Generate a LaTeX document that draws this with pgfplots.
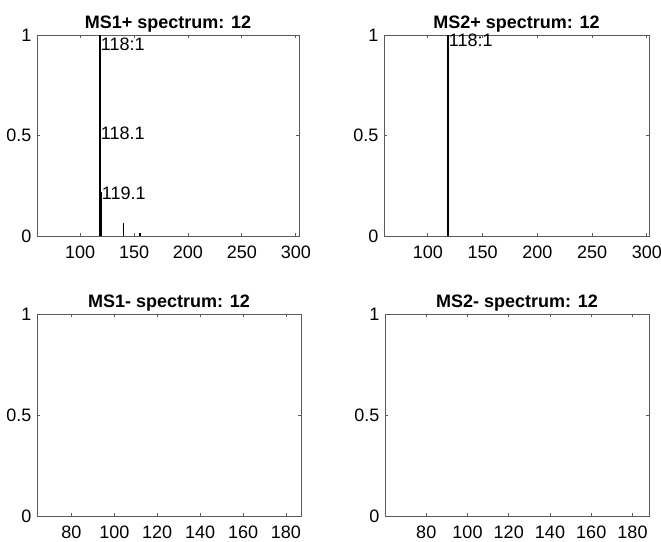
\documentclass[border=0pt]{standalone}
\usepackage{pgfplots}
\pgfplotsset{compat=1.18}
\usepackage{fontspec}
\setmainfont{Liberation Sans}
\definecolor{axgray}{RGB}{90,90,90}
\begin{document}
\begin{tikzpicture}
\path[use as bounding box] (0pt,0pt) rectangle (661pt,541pt);
\pgfplotsset{ms/.style={scale only axis, ymin=0, ymax=1, ytick={0,0.5,1}, yticklabels={0,0.5,1},
  tick align=inside, major tick length=3pt, axis line style={axgray, line width=0.9pt},
  every tick/.style={axgray, line width=0.8pt},
  tick label style={font=\fontsize{18}{20}\selectfont},
  xticklabel style={yshift=-6pt},
  yticklabel style={xshift=-2pt},
  title style={font=\bfseries\fontsize{18}{20}\selectfont, yshift=-7pt},
  /pgf/number format/assume math mode=true, anchor=south west, clip=false}}
\begin{axis}[ms, at={(37pt,305pt)}, width=262pt, height=201pt, xmin=60, xmax=303,
  xtick={100,150,200,250,300}, title={MS1+ spectrum: 12}]
\addplot[ycomb, black, line width=1.8pt, mark=none] coordinates {(118.1,1) (118.1,0.5) (119.1,0.22)};
\addplot[ycomb, black, line width=1.4pt, mark=none] coordinates {(140,0.065) (155.5,0.015)};
\node[anchor=west, inner sep=1pt, font=\fontsize{18}{20}\selectfont] at (axis cs:118.1,0.955) {118:1};
\node[anchor=west, inner sep=1pt, font=\fontsize{18}{20}\selectfont] at (axis cs:118.1,0.51) {118.1};
\node[anchor=west, inner sep=1pt, font=\fontsize{18}{20}\selectfont] at (axis cs:119.1,0.21) {119.1};
\end{axis}
\begin{axis}[ms, at={(384pt,305pt)}, width=265pt, height=201pt, xmin=60, xmax=302,
  xtick={100,150,200,250,300}, title={MS2+ spectrum: 12}]
\addplot[ycomb, black, line width=1.8pt, mark=none] coordinates {(118.1,1)};
\node[anchor=west, inner sep=1pt, font=\fontsize{18}{20}\selectfont] at (axis cs:118.1,0.975) {118:1};
\end{axis}
\begin{axis}[ms, at={(37pt,25pt)}, width=264pt, height=202pt, xmin=64, xmax=187,
  xtick={80,100,120,140,160,180}, title={MS1- spectrum: 12}]
\end{axis}
\begin{axis}[ms, at={(385pt,25pt)}, width=264pt, height=202pt, xmin=60, xmax=188,
  xtick={80,100,120,140,160,180}, title={MS2- spectrum: 12}]
\end{axis}
\end{tikzpicture}
\end{document}
